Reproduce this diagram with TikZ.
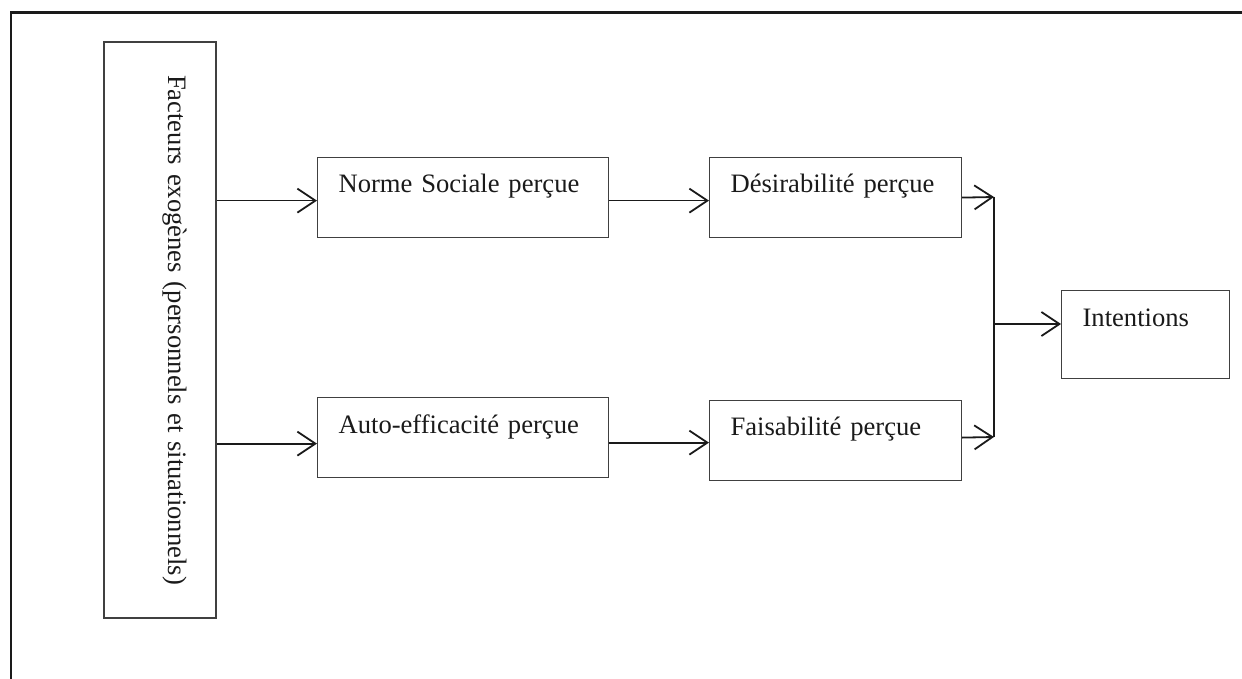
\documentclass[tikz,border=0pt]{standalone}
\usepackage{fontspec}
\setmainfont{Liberation Serif}
\usetikzlibrary{arrows.meta,calc}
\definecolor{ink}{HTML}{1A1A1A}
\definecolor{boxline}{HTML}{404040}
\begin{document}
\begin{tikzpicture}[x=0.5pt,y=-0.5pt,
  every node/.style={font=\fontsize{13.3pt}{16pt}\selectfont, text=ink},
  stage/.style={draw=boxline, line width=0.6pt, anchor=north west, inner ysep=0pt,
    inner xsep=10.5pt, align=left, text height=17.5pt, text depth=22.5pt},
  arr/.style={draw=ink, line width=0.9pt, -{Straight Barb[length=9pt,width=12pt,line width=0.9pt]}},
  link/.style={draw=ink, line width=0.9pt}]
\useasboundingbox (0,0) rectangle (1242,679);
% frame
\draw[ink, line width=1.1pt] (11,679) -- (11,12.5) -- (1242,12.5);
% nodes
\node[draw=boxline, line width=0.6pt, rotate=-90, minimum width=288pt, inner sep=0pt,
  text width=288pt, align=center, text height=24pt, text depth=32pt] (fact) at (160,330)
  {Facteurs exogènes (personnels et situationnels)};
\node[stage, text width=124.5pt] (norme) at (317,157) {Norme Sociale perçue};
\node[stage, text width=124.5pt, text height=18pt, text depth=22pt] (auto) at (317,397) {Auto-efficacité perçue};
\node[stage, text width=105pt] (desir) at (709,157) {Désirabilité perçue};
\node[stage, text width=105pt] (faisab) at (709,400) {Faisabilité perçue};
\node[stage, text width=63pt, text height=18pt, text depth=26pt] (intent) at (1061,290) {Intentions};
% connectors
\coordinate (j1) at (994,197);
\coordinate (j2) at (994,437);
\coordinate (jm) at (994,324);
\draw[arr] ([yshift=-1.5pt]fact.north |- norme.west) -- ([yshift=-1.5pt]norme.west);
\draw[arr] ([yshift=-3pt]fact.north |- auto.west) -- ([yshift=-3pt]auto.west);
\draw[arr] ([yshift=-1.5pt]norme.east) -- ([yshift=-1.5pt]desir.west);
\draw[arr] ([yshift=-2.5pt]auto.east) -- ([yshift=-2.5pt]auto.east -| faisab.west);
\draw[arr] (desir.east) -- (j1);
\draw[arr] ([yshift=1.5pt]faisab.east) -- (j2);
\draw[link] (j1) -- (j2);
\draw[arr] (jm) -- (jm -| intent.west);
\end{tikzpicture}
\end{document}
